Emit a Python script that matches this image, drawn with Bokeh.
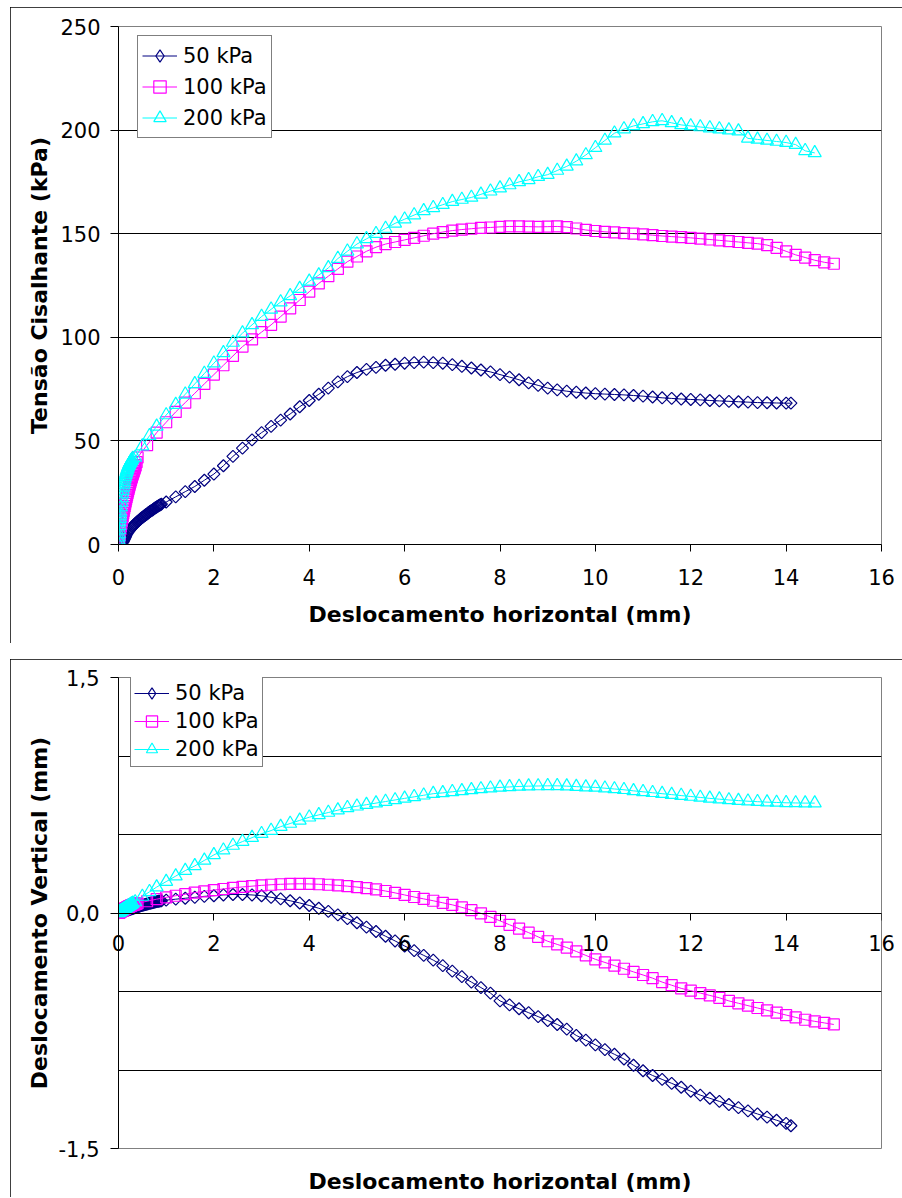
import numpy as np
from bokeh.plotting import figure
from bokeh.models import (Range1d, FixedTicker, Legend, LegendItem, LinearAxis,
                          ColumnDataSource, CDSView, IndexFilter, Label)
from bokeh.layouts import column
from bokeh.embed import file_html
from bokeh.resources import INLINE

# ---------------------------------------------------------------------------
# Direct shear tests: horizontal displacement (mm) for each normal stress
# ---------------------------------------------------------------------------
X_50 = [0, 0.04, 0.07, 0.09, 0.1, 0.11, 0.12, 0.13, 0.14, 0.15, 0.16,
        0.18, 0.2, 0.22, 0.24, 0.26, 0.28, 0.3, 0.32, 0.34, 0.36,
        0.38, 0.4, 0.42, 0.44, 0.46, 0.48, 0.5, 0.52, 0.54, 0.56,
        0.58, 0.6, 0.62, 0.64, 0.66, 0.68, 0.7, 0.72, 0.74, 0.76,
        0.78, 0.8, 0.82, 0.84, 0.86, 0.88, 0.9,
        1.0, 1.2, 1.4, 1.6, 1.8, 2.0, 2.2, 2.4, 2.6, 2.8,
        3.0, 3.2, 3.4, 3.6, 3.8, 4.0, 4.2, 4.4, 4.6, 4.8,
        5.0, 5.2, 5.4, 5.6, 5.8, 6.0, 6.2, 6.4, 6.6, 6.8,
        7.0, 7.2, 7.4, 7.6, 7.8, 8.0, 8.2, 8.4, 8.6, 8.8,
        9.0, 9.2, 9.4, 9.6, 9.8, 10.0, 10.2, 10.4, 10.6, 10.8,
        11.0, 11.2, 11.4, 11.6, 11.8, 12.0, 12.2, 12.4, 12.6, 12.8,
        13.0, 13.2, 13.4, 13.6, 13.8, 14.0, 14.1]

X_100 = [0, 0.005, 0.01, 0.015, 0.02, 0.025, 0.03,
         0.04, 0.05, 0.06, 0.07, 0.08, 0.09, 0.1, 0.11, 0.12, 0.13,
         0.14, 0.15, 0.16, 0.17, 0.18, 0.19, 0.2, 0.21, 0.22, 0.23,
         0.24, 0.25, 0.26, 0.27, 0.28, 0.29, 0.3, 0.31, 0.32, 0.33,
         0.34, 0.35, 0.36, 0.38,
         0.4, 0.6, 0.8, 1.0, 1.2, 1.4, 1.6, 1.8, 2.0, 2.2,
         2.4, 2.6, 2.8, 3.0, 3.2, 3.4, 3.6, 3.8, 4.0, 4.2,
         4.4, 4.6, 4.8, 5.0, 5.2, 5.4, 5.6, 5.8, 6.0, 6.2,
         6.4, 6.6, 6.8, 7.0, 7.2, 7.4, 7.6, 7.8, 8.0, 8.2,
         8.4, 8.6, 8.8, 9.0, 9.2, 9.4, 9.6, 9.8, 10.0, 10.2,
         10.4, 10.6, 10.8, 11.0, 11.2, 11.4, 11.6, 11.8, 12.0, 12.2,
         12.4, 12.6, 12.8, 13.0, 13.2, 13.4, 13.6, 13.8, 14.0, 14.2,
         14.4, 14.6, 14.8, 15.0]

X_200 = [0, 0.003, 0.006, 0.01, 0.015, 0.02, 0.025, 0.03, 0.035, 0.04,
         0.05, 0.06, 0.07, 0.08, 0.09, 0.1, 0.11, 0.12, 0.13, 0.14,
         0.15, 0.16, 0.17, 0.18, 0.19, 0.2, 0.21, 0.22, 0.23, 0.24,
         0.25, 0.26, 0.27, 0.28, 0.3,
         0.35, 0.5, 0.65, 0.8,
         1.0, 1.2, 1.4, 1.6, 1.8, 2.0, 2.2, 2.4, 2.6, 2.8,
         3.0, 3.2, 3.4, 3.6, 3.8, 4.0, 4.2, 4.4, 4.6, 4.8,
         5.0, 5.2, 5.4, 5.6, 5.8, 6.0, 6.2, 6.4, 6.6, 6.8,
         7.0, 7.2, 7.4, 7.6, 7.8, 8.0, 8.2, 8.4, 8.6, 8.8,
         9.0, 9.2, 9.4, 9.6, 9.8, 10.0, 10.2, 10.4, 10.6, 10.8,
         11.0, 11.2, 11.4, 11.6, 11.8, 12.0, 12.2, 12.4, 12.6, 12.8,
         13.0, 13.2, 13.4, 13.6, 13.8, 14.0, 14.2, 14.4, 14.6]

# Shear stress (kPa)
TAU_50 = [0, 0.3, 0.7, 1.1, 1.5, 2.0, 2.5, 3.0, 3.5, 4.0, 4.5,
          5.3, 6.0, 6.6, 7.2, 7.8, 8.3, 8.8, 9.3, 9.8, 10.2,
          10.7, 11.1, 11.5, 11.9, 12.3, 12.7, 13.1, 13.4, 13.8, 14.1,
          14.5, 14.8, 15.2, 15.5, 15.9, 16.2, 16.5, 16.8, 17.2, 17.5,
          17.8, 18.1, 18.4, 18.7, 19.0, 19.2, 19.5,
          20.5, 23, 25.5, 28, 31, 34, 38, 42.5, 46.5, 50.5,
          54, 57, 60, 63, 66.5, 69.5, 72.5, 75.5, 78.5, 81,
          83, 84.5, 85.5, 86.5, 87, 87.5, 87.8, 88, 87.8, 87.5,
          86.8, 86, 85.2, 84.2, 83.3, 82, 80.8, 79.5, 78, 76.8,
          75.5, 74.6, 74, 73.5, 73.1, 72.8, 72.6, 72.4, 72.2, 71.9,
          71.6, 71.2, 70.8, 70.5, 70.2, 70, 69.8, 69.5, 69.3, 69.1,
          68.9, 68.7, 68.5, 68.4, 68.3, 68.2, 68.2]

TAU_100 = [0, 1.5, 2.5, 3.4, 4.3, 5.1, 5.9,
           7.4, 8.8, 10.1, 11.4, 12.6, 13.8, 15, 16.2, 17.4, 18.5,
           19.6, 20.7, 21.8, 22.8, 23.8, 24.8, 25.8, 26.7, 27.6, 28.5,
           29.4, 30.2, 31, 31.8, 32.6, 33.4, 34.1, 34.8, 35.5, 36.2,
           36.9, 37.6, 38.3, 39.8,
           42, 48, 54, 59, 64, 68.5, 73, 77.5, 82, 86.5,
           91, 95.5, 99, 102.5, 106, 110, 114, 118, 122, 126,
           129.5, 133, 136.5, 139, 141.5, 143.5, 145, 146, 147, 148,
           149, 150, 150.8, 151.5, 152, 152.4, 152.8, 153, 153.3, 153.5,
           153.5, 153.4, 153.3, 153.4, 153.5, 153.2, 152.5, 151.8, 151.3, 150.9,
           150.6, 150.3, 150, 149.7, 149.3, 148.9, 148.6, 148.3, 148, 147.6,
           147.2, 146.8, 146.4, 146, 145.6, 145.2, 144.5, 143.2, 141.5, 139.8,
           138.5, 137.2, 136.2, 135.5]

TAU_200 = [0, 2, 3.5, 5, 7, 9, 10.8, 12.5, 14, 15.5,
           18, 20.3, 22.4, 24.3, 26, 27.6, 29, 30.3, 31.5, 32.6,
           33.6, 34.5, 35.3, 36, 36.7, 37.3, 37.9, 38.4, 38.9, 39.3,
           39.7, 40.1, 40.5, 40.9, 41.5,
           42, 47.5, 52.5, 57,
           62.5, 67.5, 72.5, 77.5, 82.5, 87.5, 92.5, 97.5, 102, 106,
           110, 113.5, 117, 120, 123.5, 127, 130, 133.5, 138, 141.5,
           145, 147.5, 150, 152.5, 155, 157, 159, 161, 162.5, 164,
           165.5, 166.5, 167.5, 169, 170.5, 172, 173.5, 175, 176, 177.5,
           178.5, 180.5, 182.5, 185, 188, 191.5, 195, 198.5, 200.5, 202,
           203, 204, 204.5, 203.5, 202.5, 202, 201.5, 201, 200.5, 200,
           199.5, 196, 195.5, 195, 194.5, 194, 193, 190, 189]

# Vertical displacement (mm)
DV_50 = [0, 0.003, 0.006, 0.008, 0.009, 0.01, 0.011, 0.012, 0.013, 0.014, 0.015,
         0.017, 0.019, 0.021, 0.023, 0.025, 0.027, 0.029, 0.031, 0.033, 0.035,
         0.037, 0.039, 0.041, 0.043, 0.045, 0.047, 0.049, 0.05, 0.052, 0.054,
         0.056, 0.057, 0.059, 0.061, 0.062, 0.064, 0.065, 0.067, 0.068, 0.07,
         0.071, 0.073, 0.074, 0.075, 0.076, 0.077, 0.078,
         0.082, 0.088, 0.094, 0.10, 0.106, 0.11, 0.115, 0.118, 0.118, 0.115,
         0.11, 0.10, 0.09, 0.078, 0.064, 0.048, 0.03, 0.01, -0.012, -0.036,
         -0.062, -0.09, -0.118, -0.148, -0.178, -0.21, -0.24, -0.27, -0.30, -0.335,
         -0.37, -0.405, -0.44, -0.475, -0.51, -0.56, -0.585, -0.61, -0.635, -0.66,
         -0.685, -0.71, -0.74, -0.78, -0.81, -0.84, -0.87, -0.90, -0.93, -0.97,
         -1.005, -1.035, -1.06, -1.085, -1.11, -1.135, -1.16, -1.18, -1.2, -1.22,
         -1.24, -1.26, -1.28, -1.3, -1.32, -1.34, -1.355]

DV_100 = [0, 0.001, 0.002, 0.003, 0.004, 0.005, 0.006,
          0.008, 0.01, 0.012, 0.014, 0.016, 0.018, 0.02, 0.022, 0.024, 0.026,
          0.028, 0.03, 0.032, 0.033, 0.035, 0.037, 0.038, 0.04, 0.041, 0.043,
          0.044, 0.046, 0.047, 0.048, 0.05, 0.051, 0.052, 0.053, 0.054, 0.055,
          0.056, 0.057, 0.058, 0.06,
          0.062, 0.075, 0.088, 0.10, 0.11, 0.12, 0.13, 0.138, 0.146, 0.153,
          0.16, 0.166, 0.171, 0.176, 0.18, 0.183, 0.185, 0.186, 0.185, 0.183,
          0.18, 0.176, 0.171, 0.165, 0.158, 0.15, 0.14, 0.128, 0.115, 0.102,
          0.09, 0.078, 0.065, 0.052, 0.036, 0.018, -0.002, -0.025, -0.05, -0.075,
          -0.1, -0.125, -0.152, -0.18, -0.2, -0.22, -0.245, -0.27, -0.295, -0.315,
          -0.335, -0.355, -0.375, -0.395, -0.415, -0.44, -0.46, -0.48, -0.495, -0.51,
          -0.525, -0.54, -0.56, -0.575, -0.59, -0.605, -0.62, -0.635, -0.65, -0.665,
          -0.68, -0.69, -0.70, -0.71]

DV_200 = [0, 0.001, 0.002, 0.003, 0.004, 0.005, 0.006, 0.007, 0.008, 0.009,
          0.011, 0.013, 0.015, 0.017, 0.019, 0.021, 0.023, 0.025, 0.027, 0.029,
          0.031, 0.033, 0.035, 0.037, 0.039, 0.041, 0.043, 0.045, 0.047, 0.049,
          0.051, 0.053, 0.055, 0.057, 0.061,
          0.07, 0.105, 0.135, 0.165,
          0.2, 0.235, 0.27, 0.3, 0.335, 0.37, 0.4, 0.43, 0.455, 0.48,
          0.505, 0.525, 0.55, 0.57, 0.59, 0.61, 0.625, 0.64, 0.655, 0.67,
          0.68, 0.69, 0.70, 0.71, 0.72, 0.73, 0.74, 0.75, 0.76, 0.765,
          0.772, 0.778, 0.784, 0.79, 0.795, 0.80, 0.803, 0.806, 0.808, 0.809,
          0.81, 0.81, 0.808, 0.805, 0.802, 0.80, 0.795, 0.79, 0.785, 0.778,
          0.772, 0.766, 0.76, 0.754, 0.748, 0.742, 0.736, 0.73, 0.725, 0.72,
          0.716, 0.712, 0.709, 0.706, 0.704, 0.702, 0.701, 0.70, 0.70]

SERIES_LABELS = ["50 kPa", "100 kPa", "200 kPa"]
X_TICKS = [0, 2, 4, 6, 8, 10, 12, 14, 16]
TAU_TICKS = [0, 50, 100, 150, 200, 250]
DV_TICKS = [-1.5, 0, 1.5]
DV_TICK_LABELS = ["-1,5", "0,0", "1,5"]
DV_GRID = [-1.5, -1.0, -0.5, 0, 0.5, 1.0, 1.5]

FONT = "DejaVu Sans"
NAVY, MAGENTA, CYAN = "#000080", "#FF00FF", "#00FFFF"
# (plot marker, rotation, size, legend marker, colour)
MARKERS = [("square", np.pi / 4, 8.5, "diamond", NAVY),
           ("square", 0.0, 11, "square", MAGENTA),
           ("triangle", 0.0, 13, "triangle", CYAN)]


def style_common(p):
    p.background_fill_color = "white"
    p.border_fill_color = "white"
    p.outline_line_color = "#808080"
    p.outline_line_width = 1
    p.xgrid.visible = False
    p.ygrid.grid_line_color = "#000000"
    p.ygrid.grid_line_width = 1
    p.styles = {"outline": "1px solid #000000", "outline-offset": "-1px"}
    for ax in (p.xaxis[0], p.yaxis[0]):
        ax.axis_line_color = "#000000"
        ax.axis_line_width = 1
        ax.major_tick_line_color = "#000000"
        ax.major_tick_in = 0
        ax.minor_tick_line_color = None
        ax.major_label_text_font = FONT
        ax.major_label_text_font_size = "21px"
        ax.major_label_text_color = "#000000"
        ax.axis_label_text_font = FONT
        ax.axis_label_text_font_style = "bold"
        ax.axis_label_text_font_size = "22px"
        ax.axis_label_text_color = "#000000"


def add_series(p, xs_list, ys_list):
    items = []
    for xs, ys, (mk, ang, sz, leg_mk, col), lab in zip(xs_list, ys_list, MARKERS, SERIES_LABELS):
        src = ColumnDataSource(dict(x=xs, y=ys))
        r_line = p.line("x", "y", source=src, line_color=col, line_width=1)
        r_mark = p.scatter("x", "y", source=src, marker=mk, angle=ang, size=sz,
                           line_color=col, line_width=1.2, fill_color=None)
        if leg_mk != mk:
            # key symbol for the legend: repeats only the starting point of the series
            r_key = p.scatter("x", "y", source=src, view=CDSView(filter=IndexFilter(indices=[0])),
                              marker=leg_mk, size=sz, line_color=col, line_width=1.2,
                              fill_color=None)
            items.append(LegendItem(label=lab, renderers=[r_line, r_key]))
        else:
            items.append(LegendItem(label=lab, renderers=[r_line, r_mark]))
    return items


def make_legend(items, loc, glyph_h, pad):
    return Legend(items=items, location=loc, margin=0,
                  border_line_color="#000000", border_line_width=1,
                  background_fill_color="white", background_fill_alpha=1,
                  label_text_font=FONT, label_text_font_size="21px",
                  label_text_color="#000000",
                  glyph_width=35, glyph_height=glyph_h, label_height=glyph_h,
                  label_standoff=6, spacing=0, padding=pad)


# ---------------------------- shear stress chart ----------------------------
p1 = figure(width=892, height=636, x_range=Range1d(0, 16), y_range=Range1d(0, 250),
            output_backend="svg", toolbar_location=None,
            min_border_left=106, min_border_right=21,
            min_border_top=19, min_border_bottom=99)
style_common(p1)
p1.xaxis.ticker = FixedTicker(ticks=X_TICKS)
p1.yaxis.ticker = FixedTicker(ticks=TAU_TICKS)
p1.ygrid.ticker = FixedTicker(ticks=TAU_TICKS)
p1.xaxis.major_tick_out = 7
p1.xaxis.major_label_standoff = 17
p1.xaxis.axis_label = "Deslocamento horizontal (mm)"
p1.xaxis.axis_label_standoff = 14
p1.yaxis.major_tick_out = 8
p1.yaxis.major_label_standoff = 10
p1.yaxis.axis_label = "Tensão Cisalhante (kPa)"
p1.yaxis.axis_label_standoff = 5

items1 = add_series(p1, [X_50, X_100, X_200], [TAU_50, TAU_100, TAU_200])
p1.add_layout(make_legend(items1, (19, 406), 31, 4))

# ------------------------- vertical displacement chart ----------------------
p2 = figure(width=892, height=538, x_range=Range1d(0, 16), y_range=Range1d(-1.5, 1.5),
            output_backend="svg", toolbar_location=None,
            min_border_left=107, min_border_right=20,
            min_border_top=18, min_border_bottom=49)
style_common(p2)
# horizontal axis crossing at zero displacement
p2.xaxis.ticker = FixedTicker(ticks=X_TICKS)
p2.xaxis.fixed_location = 0
p2.xaxis.major_tick_out = 7
p2.xaxis.major_label_text_color = None
p2.yaxis.ticker = FixedTicker(ticks=DV_TICKS)
p2.yaxis.major_label_overrides = dict(zip(DV_TICKS, DV_TICK_LABELS))
p2.yaxis.major_tick_out = 8
p2.yaxis.major_label_standoff = 11
p2.yaxis.axis_label = "Deslocamento Vertical (mm)"
p2.yaxis.axis_label_standoff = 4
p2.ygrid.ticker = FixedTicker(ticks=DV_GRID)

# title axis along the bottom edge of the frame (no ticks of its own)
label_axis = LinearAxis(ticker=FixedTicker(ticks=[]),
                        axis_label="Deslocamento horizontal (mm)",
                        axis_line_color=None, major_tick_line_color=None,
                        minor_tick_line_color=None,
                        axis_label_text_font=FONT, axis_label_text_font_style="bold",
                        axis_label_text_font_size="22px",
                        axis_label_text_color="#000000",
                        axis_label_standoff=20)
p2.add_layout(label_axis, "below")

# tick numbers of the zero axis; the two end numbers sit in side panels
# (which have room to spare) so they may run past the frame edges
for i, t in enumerate(X_TICKS):
    lab = Label(x=t, y=0, text=str(t), y_offset=-30,
                text_align="center", text_baseline="middle",
                text_font=FONT, text_font_size="21px", text_color="#000000")
    if i == 0:
        p2.add_layout(lab, "left")
    elif i == len(X_TICKS) - 1:
        p2.add_layout(lab, "above")
    else:
        p2.add_layout(lab)

items2 = add_series(p2, [X_50, X_100, X_200], [DV_50, DV_100, DV_200])
p2.add_layout(make_legend(items2, (12, 381), 28, 3))

p1.margin = (7, 0, 0, 10)
p2.margin = (16, 0, 0, 10)
page = column(p1, p2, spacing=0)

open("out.html", "w").write(file_html(page, INLINE))
